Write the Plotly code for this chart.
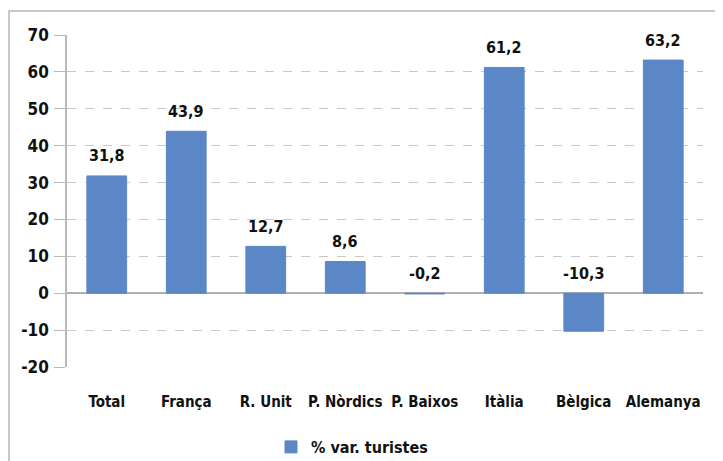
import plotly.graph_objects as go

categories = ["Total", "França", "R. Unit", "P. Nòrdics", "P. Baixos", "Itàlia", "Bèlgica", "Alemanya"]
values = [31.8, 43.9, 12.7, 8.6, -0.2, 61.2, -10.3, 63.2]
labels = ["31,8", "43,9", "12,7", "8,6", "-0,2", "61,2", "-10,3", "63,2"]
series_name = "% var. turistes"
tick_vals = [-20, -10, 0, 10, 20, 30, 40, 50, 60, 70]
tick_text = ["-20", "-10", "0", "10", "20", "30", "40", "50", "60", "70"]

FONT = "DejaVu Sans Condensed"
BAR = "#5B87C6"

fig = go.Figure()
fig.add_trace(go.Bar(x=categories, y=values, name=series_name, marker_color=BAR,
                     marker_line=dict(color=BAR, width=1), width=0.5, showlegend=True))

# page body has an 8px margin: work in page coords, then subtract it
OFF = 8
W, H = 723 - OFF, 461 - OFF
L, R, T, B = 67 - OFF, 20, 35 - OFF, 94
pw, ph = W - L - R, H - T - B

def px(x):
    return (x - OFF - L) / pw

def py(y):
    return (H - B - (y - OFF)) / ph

annotations = [
    dict(x=c, y=max(v, 0), text="<b>%s</b>" % t, showarrow=False, yshift=20,
         font=dict(family=FONT, size=16, color="#111"))
    for c, v, t in zip(categories, values, labels)
]

fig.update_layout(
    width=W, height=H,
    margin=dict(l=L, r=R, t=T, b=B, autoexpand=False),
    paper_bgcolor="white", plot_bgcolor="white",
    font=dict(family=FONT, size=15, color="#111", weight="bold"),
    xaxis=dict(showgrid=False, showline=False, ticks="", automargin=False,
               tickfont=dict(family=FONT, size=15, weight="bold"),
               ticklabelstandoff=24),
    yaxis=dict(range=[-20, 70], tickvals=tick_vals, ticktext=tick_text, showgrid=True,
               automargin=False,
               gridcolor="#c8c8c8", griddash="dash", gridwidth=1, zeroline=True,
               zerolinecolor="#b0b0b0", zerolinewidth=1.5, showline=True,
               linecolor="#b8b8b8", linewidth=1.5, ticks="outside", ticklen=11,
               tickcolor="#b8b8b8", ticklabelstandoff=2,
               tickfont=dict(family=FONT, size=17, weight="bold")),
    legend=dict(orientation="h", x=px(352), xanchor="center", y=py(447), yanchor="middle",
                font=dict(family=FONT, size=16, weight="bold")),
    annotations=annotations,
    shapes=[
        dict(type="line", xref="paper", yref="paper", x0=px(9), x1=px(723), y0=py(11), y1=py(11),
             line=dict(color="#c8c8c8", width=2)),
        dict(type="line", xref="paper", yref="paper", x0=px(9), x1=px(9), y0=py(10), y1=py(461),
             line=dict(color="#c8c8c8", width=2)),
    ],
)
fig.write_html("out.html")
